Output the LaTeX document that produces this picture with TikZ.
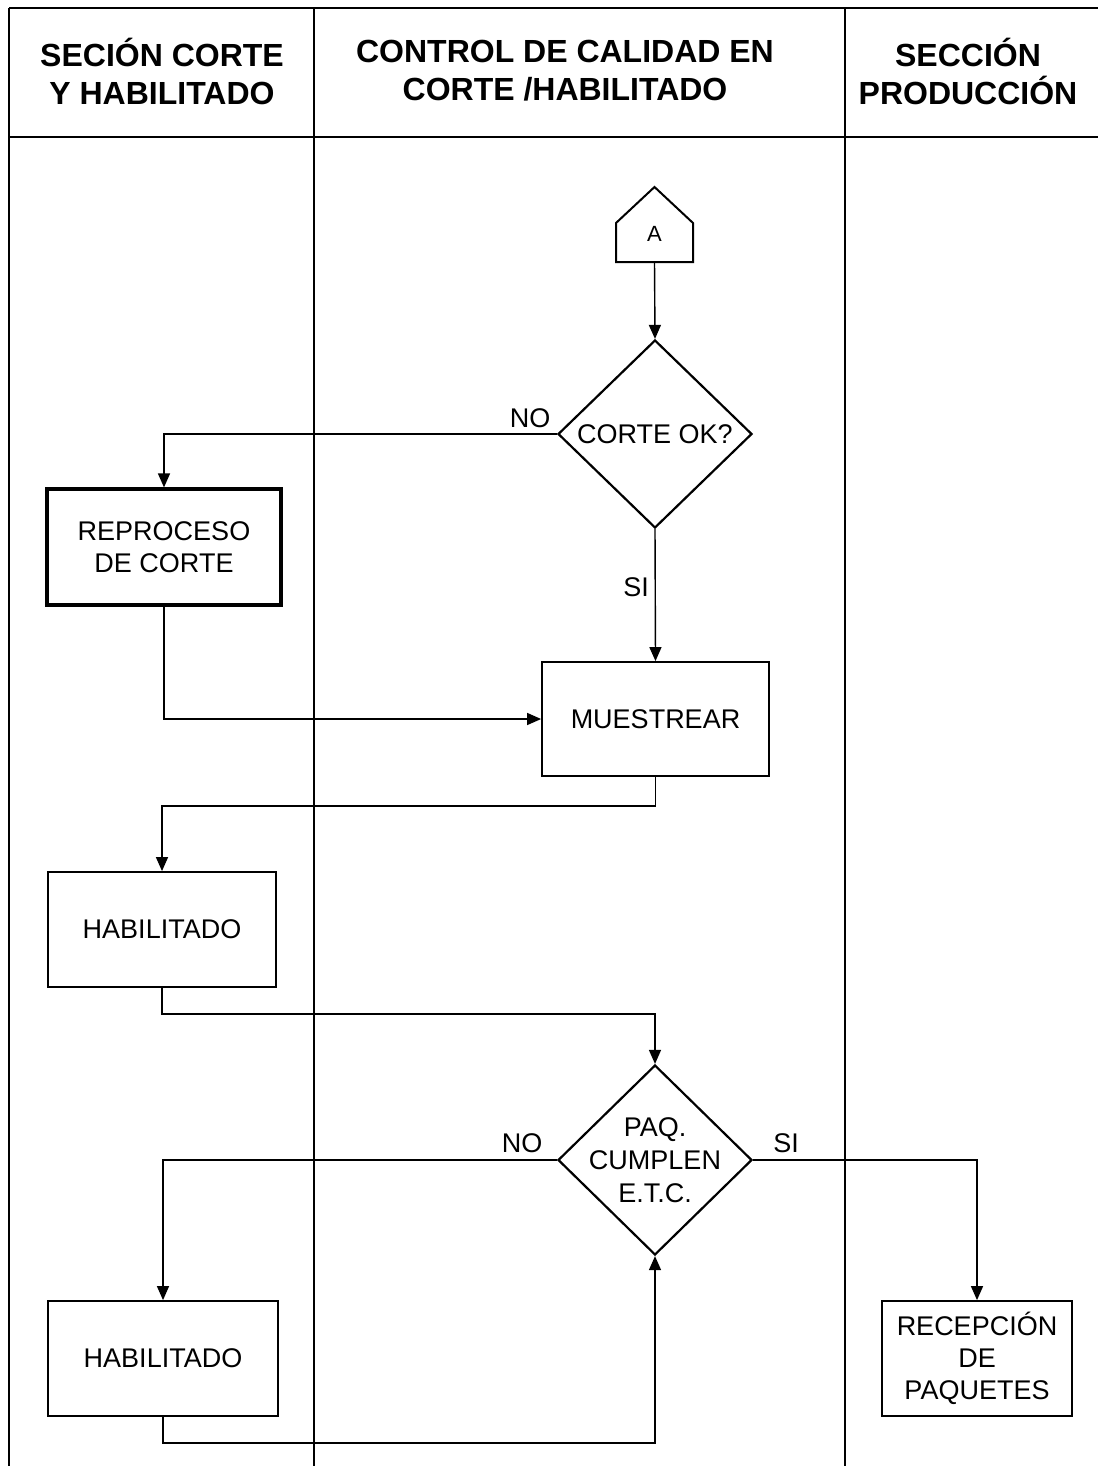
\documentclass[tikz,border=0pt]{standalone}
\usepackage{fontspec}
\setmainfont{Liberation Sans}
\usetikzlibrary{shapes.geometric,arrows.meta}
\begin{document}
\begin{tikzpicture}[x=1pt,y=-1pt,
  lane/.style={line width=1.3pt},
  hdr/.style={font=\bfseries\fontsize{32}{38}\selectfont, align=center},
  procbox/.style={draw, line width=1.8pt, align=center, inner sep=0pt,
    font=\fontsize{27}{32}\selectfont},
  decision/.style={diamond, draw, line width=2.2pt, inner sep=0pt},
  dtext/.style={align=center, inner sep=0pt, font=\fontsize{27}{33}\selectfont},
  flow/.style={line width=1.4pt, -{Triangle[width=12pt,length=14pt]}},
  lbl/.style={font=\fontsize{27}{32}\selectfont, inner sep=0pt}]
\useasboundingbox (0,0) rectangle (1098,1466);
% swimlane table
\draw[lane] (9,8) -- (1098,8);
\draw[lane] (9,137) -- (1098,137);
\draw[lane] (9,8) -- (9,1466);
\draw[lane] (314,8) -- (314,1466);
\draw[lane] (845,8) -- (845,1466);
\node[hdr] (h1) at (162,71) {SECIÓN CORTE\\Y HABILITADO};
\node[hdr] (h2) at (565,71) {CONTROL DE CALIDAD EN\\CORTE /HABILITADO};
\node[hdr] (h3) at (968,71) {SECCIÓN\\PRODUCCIÓN};
% connector A
\draw[line width=2pt] (616,262) -- (616,223) -- (654.5,187) -- (693,223) -- (693,262) -- cycle;
\node[font=\fontsize{22}{26}\selectfont] (A) at (654.5,234) {A};
\coordinate (Abot) at (654.5,262);
% nodes
\node[decision, minimum width=194pt, minimum height=188pt] (d1) at (655,434) {};
\node[dtext] (d1t) at (d1.center) {CORTE OK?};
\node[procbox, line width=3.2pt, minimum width=234pt, minimum height=116pt] (rep) at (164,547) {REPROCESO\\DE CORTE};
\node[procbox, minimum width=227pt, minimum height=114pt] (mue) at (655.5,719) {MUESTREAR};
\node[procbox, minimum width=228pt, minimum height=115pt] (hab1) at (162,929.5) {HABILITADO};
\node[decision, minimum width=194pt, minimum height=190pt] (d2) at (655,1160) {};
\node[dtext] (d2t) at (d2.center) {PAQ.\\CUMPLEN\\E.T.C.};
\node[procbox, minimum width=230pt, minimum height=115pt] (hab2) at (163,1358.5) {HABILITADO};
\node[procbox, minimum width=190pt, minimum height=115pt] (rec) at (977,1358.5) {RECEPCIÓN\\DE\\PAQUETES};
% junctions
\coordinate (j1) at (655.5,806);
\coordinate (j2) at (162,1014);
\coordinate (j3) at (163,1443);
% connectors
\draw[flow] (Abot) -- (d1.north);
\draw[flow] (d1.west) -| (rep.north);
\node[lbl] (no1) at (530,418) {NO};
\draw[flow] (d1.south) -- (mue.north);
\node[lbl] (si1) at (636,587) {SI};
\draw[flow] (rep.south) |- (mue.west);
\draw[flow] (mue.south) -- (j1) -| (hab1.north);
\draw[flow] (hab1.south) -- (j2) -| (d2.north);
\draw[flow] (d2.west) -| (hab2.north);
\node[lbl] (no2) at (522,1143) {NO};
\draw[flow] (d2.east) -| (rec.north);
\node[lbl] (si2) at (786,1143) {SI};
\draw[flow] (hab2.south) -- (j3) -| (d2.south);
\end{tikzpicture}
\end{document}
